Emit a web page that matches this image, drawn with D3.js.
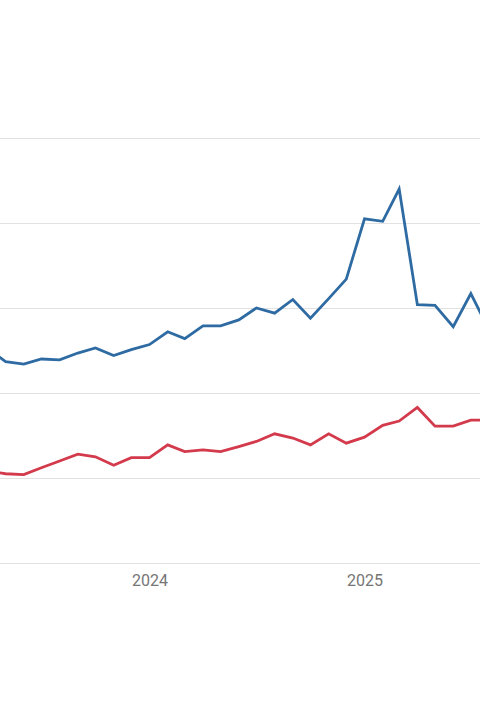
<!DOCTYPE html>
<html>
<head>
<meta charset="utf-8">
<script src="https://cdn.jsdelivr.net/npm/d3@7"></script>
<style>
	html, body { margin: 0; padding: 0; background: #fff; }
	svg { display: block; }
</style>
</head>
<body>
<div id="chart"></div>
<script>
// monthly points
const months = [
	'2023-04', '2023-05', '2023-06', '2023-07', '2023-08', '2023-09',
	'2023-10', '2023-11', '2023-12', '2024-01', '2024-02', '2024-03',
	'2024-04', '2024-05', '2024-06', '2024-07', '2024-08', '2024-09',
	'2024-10', '2024-11', '2024-12', '2025-01', '2025-02', '2025-03',
	'2025-04', '2025-05', '2025-06', '2025-07', '2025-08'
];
const blueValues = [
	2.52, 2.37, 2.34, 2.40, 2.39, 2.47,
	2.53, 2.44, 2.51, 2.57, 2.72, 2.64,
	2.79, 2.79, 2.86, 3.00, 2.94, 3.10,
	2.88, 3.11, 3.34, 4.05, 4.02, 4.40,
	3.04, 3.03, 2.78, 3.17, 2.74
];
const redValues = [
	1.08, 1.05, 1.04, 1.12, 1.20, 1.28,
	1.25, 1.15, 1.24, 1.24, 1.39, 1.31,
	1.33, 1.31, 1.37, 1.43, 1.52, 1.47,
	1.39, 1.52, 1.41, 1.48, 1.62, 1.67,
	1.83, 1.61, 1.61, 1.68, 1.68
];
const gridValues = [0, 1, 2, 3, 4, 5];
const yearTicks = ['2024-01', '2025-01'];

const width = 480, height = 720;
const parseMonth = d3.timeParse('%Y-%m');

let svg = d3.select('#chart').append('svg')
	.attr('width', width)
	.attr('height', height);

// the visible window only shows the middle of the time range
let x = d3.scaleTime()
	.domain([parseMonth('2024-01'), parseMonth('2025-01')])
	.range([149.5, 364.5]);
let y = d3.scaleLinear()
	.domain([0, 5])
	.range([563, 138]);

//gridlines
let grid = svg.append('g')
	.call(d3.axisLeft(y).tickValues(gridValues).tickSize(-width).tickFormat(''));
grid.select('.domain').remove();
grid.selectAll('.tick line')
	.attr('stroke', '#e2e2e2')
	.attr('stroke-width', 1.2);

let xAxis = svg.append('g')
	.attr('transform', 'translate(0,563)')
	.call(d3.axisBottom(x)
		.tickValues(yearTicks.map(parseMonth))
		.tickFormat(d3.timeFormat('%Y'))
		.tickSize(0)
		.tickPadding(11.5));
xAxis.select('.domain').remove();
xAxis.selectAll('text')
	.attr('fill', '#757575')
	.style('font-family', 'Roboto, "Noto Sans", sans-serif')
	.style('font-size', '16px');

let line = d3.line()
	.x(function(d, i){ return x(parseMonth(months[i])); })
	.y(function(d){ return y(d); });

svg.append('path')
	.attr('d', line(redValues))
	.attr('fill', 'none')
	.attr('stroke', '#d33a4b')
	.attr('stroke-width', 2.8)
	.attr('stroke-linejoin', 'miter');

svg.append('path')
	.attr('d', line(blueValues))
	.attr('fill', 'none')
	.attr('stroke', '#2f6ba3')
	.attr('stroke-width', 2.8)
	.attr('stroke-linejoin', 'miter');
</script>
</body>
</html>
